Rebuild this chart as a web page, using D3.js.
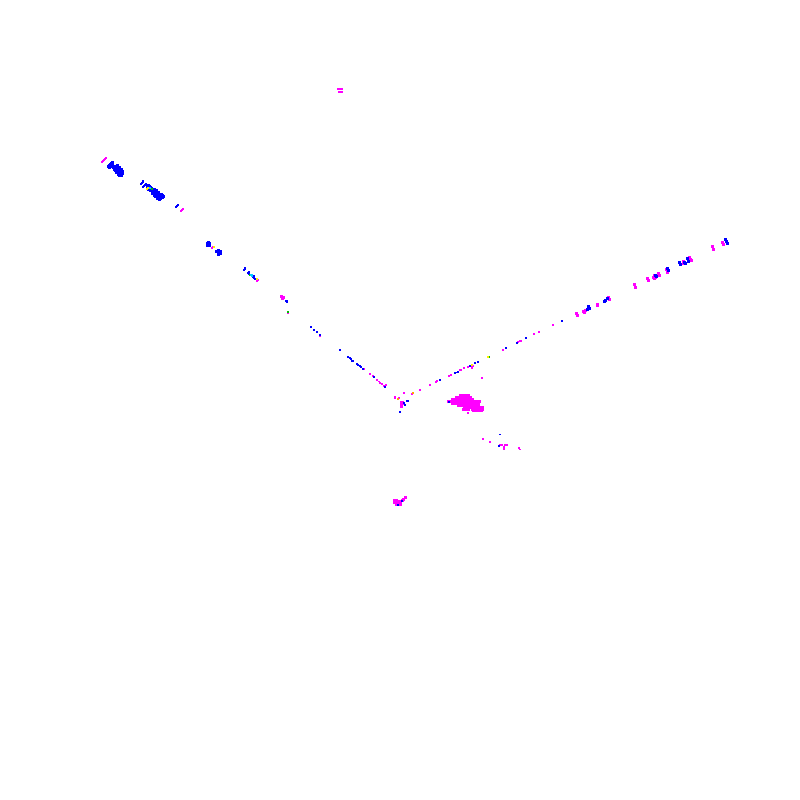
<!DOCTYPE html>
<html>
<head>
<meta charset="utf-8">
<script src="https://cdn.jsdelivr.net/npm/d3@7"></script>
<style>
html, body { margin: 0; padding: 0; background: #fff; }
svg { display: block; }
</style>
</head>
<body>
<div id="chart"></div>
<script>
// values, [x, y]
const magentaLine = [
    [-62,311],[-60,311],[-58,311],[-61,308.5],[-59,308.5],[-58,308.5],
    [-298,238],[-297,239],[-296,240],[-295,241],[-294.5,242],
    [-219.5,189],[-218.5,190],[-217.5,191],[-217,191.5],
    [-188.5,152],[-187.5,153],[-143,119.5],[-142,120],
    [-112,87],[-80,64],[-36,31.5],
    [-1,2],
    [68,33],[72,33],[73,34],[72,32],[82,22],
    [103,50],[118,58],[120,59],
    [121,59],[134,66],[139,68],[153,75],
    [83,-39],[104,-47],[104,-49],[119,-48],
    [100,-45],[102,-45],[105,-45],[107,-45]
];
const magentaBlob = [
    [-118,103],[-117,103],[-118,102],[-118.5,103.5],
    [1,-2],[2,-2],[1,-3],[2,-3],[1,-6],
    [60,5],[62,5],[64,5],[66,5],[68,5],
    [56,3],[58,3],[60,3],[62,3],[64,3],[66,3],[68,3],[70,3],
    [52,1],[54,1],[56,1],[58,1],[60,1],[62,1],[64,1],[66,1],[68,1],[70,1],[72,1],
    [48,-1],[50,-1],[52,-1],[54,-1],[56,-1],[58,-1],[60,-1],[62,-1],[64,-1],[66,-1],[68,-1],[70,-1],[72,-1],[74,-1],[76,-1],[78,-1],[79,-1],
    [52,-3],[54,-3],[56,-3],[58,-3],[60,-3],[62,-3],[64,-3],[66,-3],[68,-3],[70,-3],[72,-3],[74,-3],[76,-3],[78,-3],
    [58,-5],[60,-5],[62,-5],[64,-5],[66,-5],[68,-5],[70,-5],[72,-5],[74,-5],[76,-5],[78,-5],
    [64,-7],[66,-7],[68,-7],[70,-7],[72,-7],[74,-7],[76,-7],[78,-7],[80,-7],[82,-7],
    [63,-9],[65,-9],[68,-9],[72,-9],[74,-9],[76,-9],[78,-9],[80,-9],[82,-9],
    [73,-10.5],[75,-10.5],[77,-10.5],[79,-10.5],[81,-10.5],
    [5,-97.5],[3,-99],[-6,-100],[-4,-100],[-2,-101],[0,-101],[2,-100],
    [-6,-102],[-4,-102],[-2,-102.5],[-4,-104],[-2,-104],[0,-104.5],
    // right branch
    [176,87],[177,85],[183,89],[185,90],[184,88],
    [197,96],[197,95],[208,103],[209,101],
    [234,116],[235,113],[247,122],[248,120],
    [253,123],[254,125],[255,123],[254,122],[258,127],[259,125],
    [266,131],[267,128],[283,139],[283,137],
    [289,143],[290,141],[291,140],[289,140],[312,154],[313,151],[322,158],[323,156]
];
const magentaSmall = [
    [-30,26],[-27,24],[-23,20],[-21,18.5],[-20,17],[-18,16],[-14,15],[-16,14],
    [-5,3],[-5,2],[-1,2],[4,7],[12,6],[20,10],[30,15],[36,18],[37,19],
    [49,24],[51,25],[60,30],[61,30],[64,32],[68,-13],[90,-42],[120,-49.5]
];
const blueBlob = [
    [-292,234],[-291,235],[-290,236],[-289,237],[-288,237.5],[-291,233],[-290,234],[-289,235],[-288,236],
    [-287,233],[-285,234],[-285,232],[-285,230],[-283,233],[-283,231],[-283,229],
    [-281,231],[-281,229],[-281,227],[-279,229],[-279,227],[-280,225],[-281,225],
    [-286,233],[-284,231],[-282,229],[-280,227],[-278,227],[-279,225],[-284,228],[-282,226],[-286,231],
    [-283,234.5],[-281,232.5],[-279,230.5],[-278,229],
    [-253,214],[-252,215],[-251,214],[-250,213],[-249,212],[-248,211],[-252,211],[-250,210],[-248,209],[-247,208],
    [-245,210],[-246,207],[-244,208.5],[-244,206],[-243,207],[-242,205],[-241,206],[-240,204],[-242,203],[-240,202],[-239,204],
    [-246,211],[-248,207],[-246,205],[-245,204],[-243,202],[-241,201],[-238,203],[-237,204],[-238,205],[-239,206],[-242,208],[-244,210],[-246,209],
    [-193,157],[-191,157],[-193,155],[-191,155],[-192,158],
    [-184,149],[-182,150],[-182,148],[-180,149],[-180,147],[-182,146],[-181.5,146],
    // right branch
    [187,91],[189,92],[188,94],
    [204,99],[205,100],[207,102],
    [255,125],[256,124],[267,132],[268,130],[279,138],[280,136],[284,138],[285,137],[287,142],[288,139],
    [325,161],[326,159],[327,157]
];
const blueLine = [
    [-259.5,216],[-258.5,217],[-257.5,218],[-257,219],
    [-257.5,213],[-256.5,214],[-255.5,215],[-254.5,216],[-254,216.5],
    [-224.5,193],[-223.5,194],[-222.5,195],[-222,195.5],
    [-156.5,130.5],[-155.5,131],[-155,132],
    [-152,127],[-151,128],[-151,126],[-151.5,127.5],
    [-147,123],[-146,124],[-146,122],[-145,121],
    [-114,99],[-113,99],[-113,98],
    [-89,73],[-86,70],[-83,68],[-80,65.5],[-60,50],
    [-52,43.5],[-50,42],[-49,41],[-48,39.5],[-47,39],
    [-43,36],[-42,35],[-40,34],[-39,33],[-37,31],
    [70,34.5],[78,38],[106,52],[117,57],[126,62],[162,79],
    [99,-46]
];
const blueSmall = [
    [-26,23],[-15,13],[7,-1],[8,-1],[4,-3],[5,-5],[0,-12],[55,27],[56,27.5],[58,28],[75,37],[40,20],[49,-2],[100,-34.5],[2,-101],[-2,-105]
];
const greenPoints = [[-248.5,211.5],[-150.5,125.5],[-112,88.5],[89,43]];
const yellowPoints = [[-253.5,211],[-252.5,212],[-186.5,153],[-143,121],[87.5,43],[72,35]];
const cyanPoints = [[-250,212.5],[-149,125],[-148,124],[-148.5,125.5]];
const orangePoints = [[-2,1],[13,7]];

const width = 800;
const height = 800;

const x = d3.scaleLinear().domain([-400, 400]).range([0, width]);
const y = d3.scaleLinear().domain([-400, 400]).range([height, 0]);

const svg = d3.select("#chart").append("svg")
    .attr("width", width)
    .attr("height", height);

function drawPoints(points, color, size) {
    svg.append("g")
        .attr("fill", color)
        .attr("shape-rendering", "crispEdges")
        .selectAll("rect")
        .data(points)
        .enter().append("rect")
        .attr("x", d => x(d[0]) - size / 2)
        .attr("y", d => y(d[1]) - size / 2)
        .attr("width", size)
        .attr("height", size);
}

drawPoints(magentaBlob, "#ff00ff", 3);
drawPoints(magentaLine, "#ff00ff", 2);
drawPoints(magentaSmall, "#ff00ff", 1.5);
drawPoints(blueBlob, "#0000ff", 3);
drawPoints(blueLine, "#0000ff", 2);
drawPoints(blueSmall, "#0000ff", 1.5);
drawPoints(greenPoints, "#00c000", 2);
drawPoints(cyanPoints, "#00ccff", 2);
drawPoints(yellowPoints, "#ffee00", 2);
drawPoints(orangePoints, "#ffa500", 1.5);
</script>
</body>
</html>
